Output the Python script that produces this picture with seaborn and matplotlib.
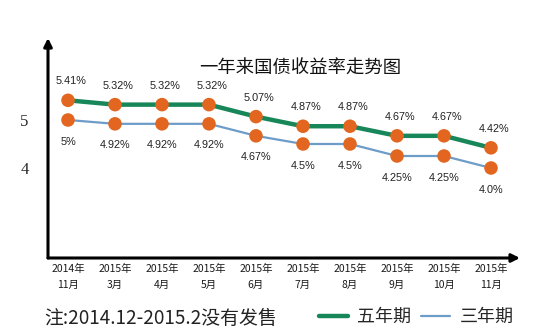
import matplotlib
matplotlib.use("Agg")
import matplotlib.pyplot as plt
from matplotlib.lines import Line2D
import seaborn as sns
import pandas as pd

# Issue months (two-line tick labels)
months = ["2014年\n11月", "2015年\n3月", "2015年\n4月", "2015年\n5月", "2015年\n6月",
          "2015年\n7月", "2015年\n8月", "2015年\n9月", "2015年\n10月", "2015年\n11月"]

# Coupon rates (%)
five_year = [5.41, 5.32, 5.32, 5.32, 5.07, 4.87, 4.87, 4.67, 4.67, 4.42]
three_year = [5.0, 4.92, 4.92, 4.92, 4.67, 4.5, 4.5, 4.25, 4.25, 4.0]

five_labels = ["5.41%", "5.32%", "5.32%", "5.32%", "5.07%", "4.87%", "4.87%", "4.67%", "4.67%", "4.42%"]
three_labels = ["5%", "4.92%", "4.92%", "4.92%", "4.67%", "4.5%", "4.5%", "4.25%", "4.25%", "4.0%"]

series_names = ["五年期", "三年期"]
y_ticks = [4, 5]

sns.set_theme(style="white")
plt.rcParams["font.family"] = ["Noto Sans CJK SC", "DejaVu Sans"]

GREEN = "#17875a"
BLUE = "#6e9cc9"
ORANGE = "#e2661f"

idx = list(range(len(months)))
df_five = pd.DataFrame({"idx": idx, "rate": five_year})
df_three = pd.DataFrame({"idx": idx, "rate": three_year})

fig = plt.figure(figsize=(5.56, 3.35), dpi=100)
ax = fig.add_axes([48 / 556, 77 / 335, 472 / 556, 220 / 335])

sns.lineplot(data=df_three, x="idx", y="rate", color=BLUE, linewidth=1.6, ax=ax, zorder=2)
sns.lineplot(data=df_five, x="idx", y="rate", color=GREEN, linewidth=3.2, ax=ax, zorder=3)
sns.scatterplot(data=df_three, x="idx", y="rate", color=ORANGE, s=95, edgecolor="none", ax=ax, zorder=4)
sns.scatterplot(data=df_five, x="idx", y="rate", color=ORANGE, s=95, edgecolor="none", ax=ax, zorder=5)

label_font = ["Liberation Sans", "DejaVu Sans"]
for i, (v, t) in enumerate(zip(five_year, five_labels)):
    ax.annotate(t, (i, v), xytext=(2, 10), textcoords="offset points", ha="center", va="bottom",
                fontsize=7.8, family=label_font, color="#222222")
for i, (v, t) in enumerate(zip(three_year, three_labels)):
    ax.annotate(t, (i, v), xytext=(0, -12), textcoords="offset points", ha="center", va="top",
                fontsize=7.8, family=label_font, color="#222222")

ax.set_xlim(-0.4255, 9.617)
ax.set_ylim(2.125, 6.708)
ax.set_xticks(idx)
ax.set_xticklabels(months, fontsize=7.5, linespacing=1.85, color="#1a1a1a", fontweight="medium")
ax.set_yticks(y_ticks)
ax.set_yticklabels([str(t) for t in y_ticks], fontsize=12, family=["Liberation Serif", "DejaVu Serif"])
ax.tick_params(axis="both", length=0)
ax.tick_params(axis="x", pad=4)
ax.tick_params(axis="y", pad=14)
ax.set_xlabel("")
ax.set_ylabel("")
for s in ax.spines.values():
    s.set_visible(False)

# Arrowed axes
arrow = dict(arrowstyle="-|>", lw=2.2, color="black", mutation_scale=12, shrinkA=0, shrinkB=0)
ax.annotate("", xy=(0, 1.0), xytext=(0, 0), xycoords="axes fraction", arrowprops=arrow, annotation_clip=False)
ax.annotate("", xy=(1.0, 0), xytext=(0, 0), xycoords="axes fraction", arrowprops=arrow, annotation_clip=False)

fig.text(300 / 556, 1 - 69 / 335, "一年来国债收益率走势图", ha="center", va="center", fontsize=13.2, color="#111111")
fig.text(44 / 556, 1 - 318 / 335, "注:2014.12-2015.2没有发售", ha="left", va="center", fontsize=13.6, color="#222222")

handles = [Line2D([], [], color=GREEN, lw=3.2), Line2D([], [], color=BLUE, lw=1.6)]
fig.legend(handles, series_names, loc="center", bbox_to_anchor=(416 / 556, 1 - 317 / 335), ncol=2,
           frameon=False, fontsize=13, handlelength=1.6, handletextpad=0.5, columnspacing=0.6,
           borderpad=0, borderaxespad=0)

fig.savefig("out.png", dpi=100, facecolor="white")
